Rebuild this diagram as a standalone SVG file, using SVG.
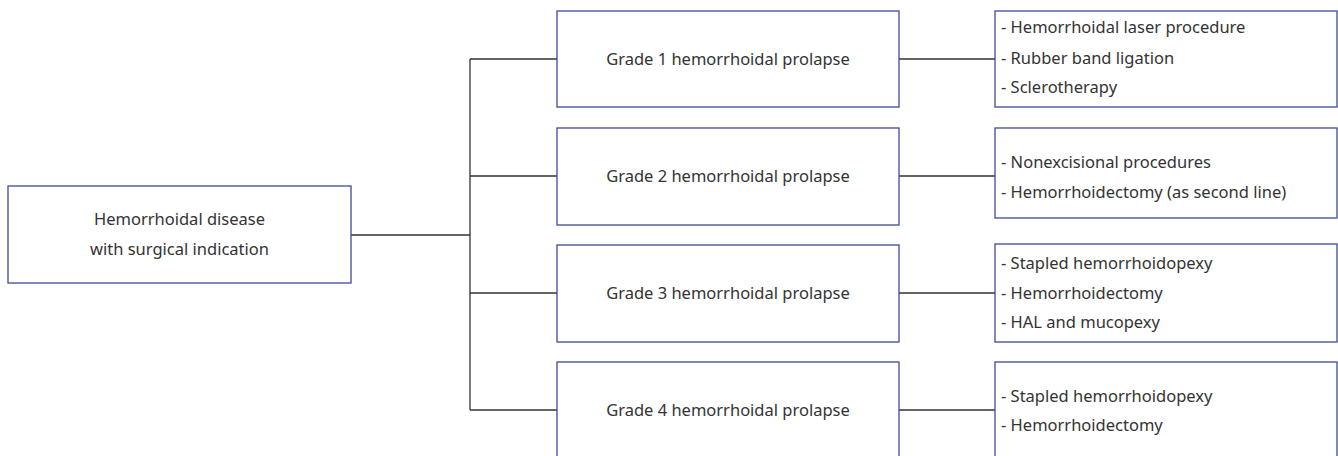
<svg xmlns="http://www.w3.org/2000/svg" width="1338" height="456" viewBox="0 0 1338 456">
<style>
.box{fill:#fff;stroke:#3b4a9c;stroke-width:1.3}
.t{font-family:"Noto Sans","Liberation Sans",sans-serif;font-size:16.5px;fill:#333}
.c{text-anchor:middle}
.ln{stroke:#333;stroke-width:1.3;fill:none}
</style>
<rect width="1338" height="456" fill="#fff"/>
<g id="connectors">
<path class="ln" d="M351 235H470M470 59V410M470 59H557M470 176H557M470 293H557M470 410H557"/>
<path class="ln" d="M899 59H995M899 176H995M899 293H995M899 410H995"/>
</g>
<g id="root">
<rect class="box" x="8" y="186" width="343" height="97"/>
<text class="t c" x="179.5" y="225">Hemorrhoidal disease</text>
<text class="t c" x="179.5" y="255">with surgical indication</text>
</g>
<g id="grade1">
<rect class="box" x="557" y="11" width="342" height="96"/>
<text class="t c" x="728" y="65">Grade 1 hemorrhoidal prolapse</text>
</g>
<g id="grade2">
<rect class="box" x="557" y="128" width="342" height="97"/>
<text class="t c" x="728" y="182">Grade 2 hemorrhoidal prolapse</text>
</g>
<g id="grade3">
<rect class="box" x="557" y="245" width="342" height="97"/>
<text class="t c" x="728" y="299">Grade 3 hemorrhoidal prolapse</text>
</g>
<g id="grade4">
<rect class="box" x="557" y="362" width="342" height="97"/>
<text class="t c" x="728" y="416">Grade 4 hemorrhoidal prolapse</text>
</g>
<g id="tx1">
<rect class="box" x="995" y="11" width="342" height="96"/>
<text class="t" x="1001" y="33">- Hemorrhoidal laser procedure</text>
<text class="t" x="1001" y="64">- Rubber band ligation</text>
<text class="t" x="1001" y="93">- Sclerotherapy</text>
</g>
<g id="tx2">
<rect class="box" x="995" y="128" width="342" height="90"/>
<text class="t" x="1001" y="168">- Nonexcisional procedures</text>
<text class="t" x="1001" y="198">- Hemorrhoidectomy (as second line)</text>
</g>
<g id="tx3">
<rect class="box" x="995" y="244" width="342" height="98"/>
<text class="t" x="1001" y="269">- Stapled hemorrhoidopexy</text>
<text class="t" x="1001" y="299">- Hemorrhoidectomy</text>
<text class="t" x="1001" y="328">- HAL and mucopexy</text>
</g>
<g id="tx4">
<rect class="box" x="995" y="362" width="342" height="97"/>
<text class="t" x="1001" y="402">- Stapled hemorrhoidopexy</text>
<text class="t" x="1001" y="431">- Hemorrhoidectomy</text>
</g>
</svg>
